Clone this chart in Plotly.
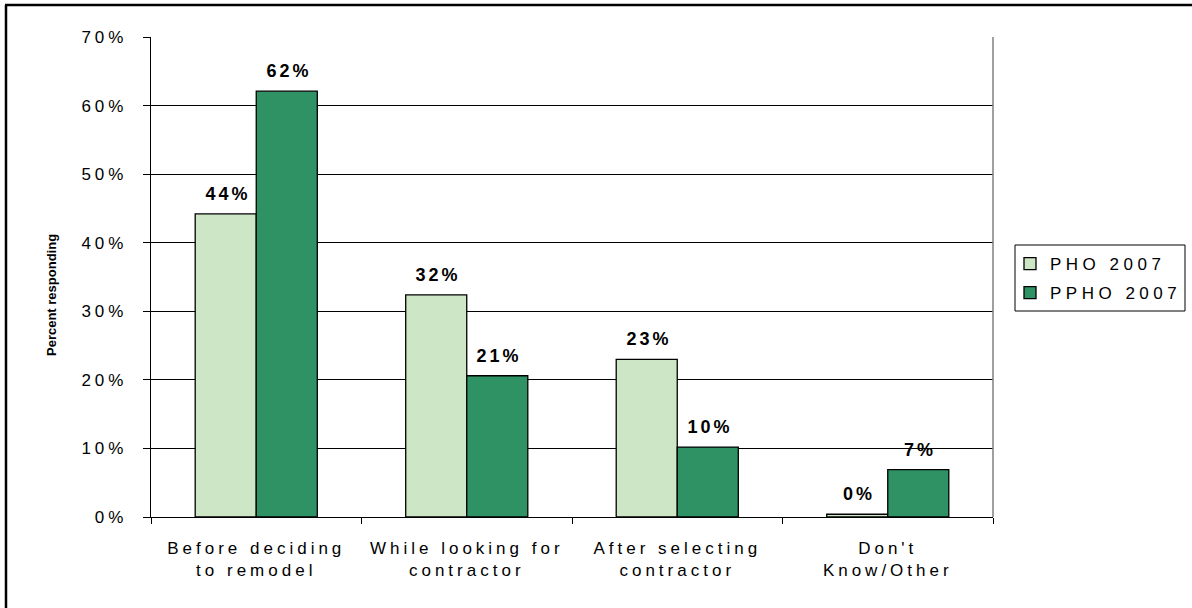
import plotly.graph_objects as go

# Survey data: when respondents began looking for remodeling information
categories = ["Before deciding<br>to remodel", "While looking for<br>contractor",
              "After selecting<br>contractor", "Don't<br>Know/Other"]
pho_2007 = [44.2, 32.4, 23.0, 0.4]
ppho_2007 = [62.1, 20.6, 10.2, 6.9]
series_names = ["PHO 2007", "PPHO 2007"]
y_ticks = [0, 10, 20, 30, 40, 50, 60, 70]

LIGHT = "#CDE6C5"
DARK = "#2E9265"
FONT = "Liberation Sans, Arial, sans-serif"

# plot-area placement in pixels (1192 x 608 canvas)
W, H = 1192, 608
L, R, T, B = 151, 993, 37, 517
PW, PH = R - L, B - T


def px_x(x):
    return (x - L) / PW


def px_y(y):
    return (B - y) / PH


fig = go.Figure()
for name, vals, col in [(series_names[0], pho_2007, LIGHT), (series_names[1], ppho_2007, DARK)]:
    fig.add_trace(go.Bar(
        name=name, x=categories, y=vals, legendgroup=name,
        marker=dict(color=col, line=dict(color="#000000", width=1.3)),
    ))

# value labels above each bar
half_bar = PW / len(categories) * (1 - 0.42) / 4
for vals, shift in [(pho_2007, -half_bar), (ppho_2007, half_bar)]:
    for c, v in zip(categories, vals):
        fig.add_annotation(
            x=c, y=v, xref="x", yref="y", text=f"{v:.0f}%", showarrow=False,
            xshift=shift + 2, yshift=8, yanchor="bottom", xanchor="center",
            font=dict(family=FONT, size=18, color="#000000", weight="bold"),
        )

# y-axis title
fig.add_annotation(
    x=px_x(51), y=px_y(295), xref="paper", yref="paper", text="Percent responding",
    textangle=-90, showarrow=False, xanchor="center", yanchor="middle",
    font=dict(family=FONT, size=13, color="#000000", weight="bold"),
)

shapes = [
    # right edge of plot area
    dict(type="line", xref="paper", yref="paper", x0=1, x1=1, y0=0, y1=1,
         line=dict(color="#808080", width=1.5)),
    # legend frame
    dict(type="rect", xref="paper", yref="paper",
         x0=px_x(1015), x1=px_x(1185), y0=px_y(311), y1=px_y(245),
         line=dict(color="#000000", width=1), fillcolor="rgba(0,0,0,0)"),
    # outer chart frame (left and top edges)
    dict(type="line", xref="paper", yref="paper", x0=px_x(6), x1=px_x(6),
         y0=px_y(5), y1=px_y(W), line=dict(color="#000000", width=2.5)),
    dict(type="line", xref="paper", yref="paper", x0=px_x(5), x1=px_x(W + 5),
         y0=px_y(5), y1=px_y(5), line=dict(color="#000000", width=2.5)),
]

fig.update_layout(
    width=W, height=H,
    margin=dict(l=L, r=W - R, t=T, b=H - B, pad=0),
    paper_bgcolor="#FFFFFF", plot_bgcolor="#FFFFFF",
    barmode="group", bargap=0.42, bargroupgap=0,
    font=dict(family=FONT, color="#000000"),
    showlegend=True,
    legend=dict(
        x=px_x(1010), y=px_y(246), xanchor="left", yanchor="top",
        bgcolor="rgba(0,0,0,0)", borderwidth=0,
        font=dict(family=FONT, size=17, color="#000000"),
        traceorder="grouped", tracegroupgap=4, itemwidth=30,
    ),
    shapes=shapes,
    xaxis=dict(
        showline=True, linecolor="#000000", linewidth=1.3,
        ticks="outside", tickson="boundaries", ticklen=6, tickcolor="#000000",
        tickfont=dict(family=FONT, size=17, color="#000000"),
        showgrid=False, zeroline=False, ticklabelstandoff=15,
    ),
    yaxis=dict(
        range=[0, 70], tickvals=y_ticks, ticktext=[f"{t}%" for t in y_ticks],
        showline=True, linecolor="#000000", linewidth=1.3,
        ticks="outside", ticklen=7, tickcolor="#000000",
        tickfont=dict(family=FONT, size=17, color="#000000"),
        showgrid=True, gridcolor="#000000", gridwidth=1,
        zeroline=False, ticklabelstandoff=12,
    ),
)

# wide character spacing for the axis, legend and value label text
spacing_css = """
var s = document.createElement('style');
s.textContent = '.ytick text{letter-spacing:4px}' +
  '.xtick text{letter-spacing:4px}' +
  'text.legendtext{letter-spacing:4.5px}' +
  '.legend *{clip-path:none !important}' +
  '.annotation .annotation-text{letter-spacing:3px}' +
  '.annotation[data-index="8"] .annotation-text{letter-spacing:0px}';
document.head.appendChild(s);
"""

fig.write_html("out.html", post_script=spacing_css)
